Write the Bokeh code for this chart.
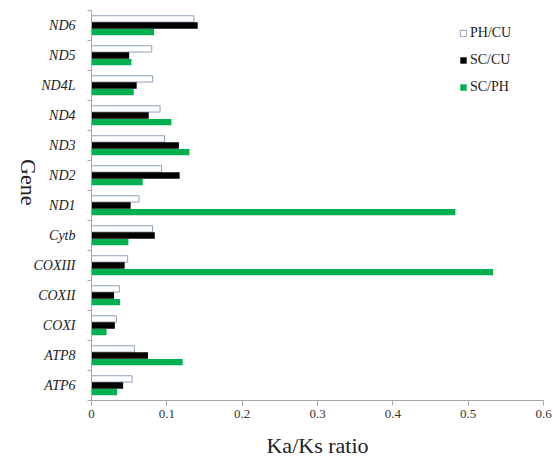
from bokeh.plotting import figure
from bokeh.models import (ColumnDataSource, Range1d, FixedTicker, NumeralTickFormatter,
                          Legend, LegendItem)
from bokeh.transform import dodge
from bokeh.embed import file_html
from bokeh.resources import INLINE
import math

genes = ["ATP6", "ATP8", "COXI", "COXII", "COXIII", "Cytb", "ND1",
         "ND2", "ND3", "ND4", "ND4L", "ND5", "ND6"]
ph_cu = [0.054, 0.057, 0.033, 0.037, 0.048, 0.081, 0.063, 0.093, 0.097, 0.091, 0.081, 0.080, 0.136]
sc_cu = [0.042, 0.075, 0.031, 0.030, 0.044, 0.084, 0.052, 0.117, 0.116, 0.076, 0.060, 0.050, 0.141]
sc_ph = [0.034, 0.121, 0.020, 0.038, 0.533, 0.049, 0.483, 0.068, 0.130, 0.106, 0.056, 0.053, 0.083]
x_ticks = [0, 0.1, 0.2, 0.3, 0.4, 0.5, 0.6]

pos = list(range(1, len(genes) + 1))
src = ColumnDataSource(dict(pos=pos, gene=genes, ph_cu=ph_cu, sc_cu=sc_cu, sc_ph=sc_ph))

FONT = "'Liberation Serif', 'Times New Roman', serif"
AX = "#a6a6a6"

p = figure(width=553, height=460, output_backend="svg", toolbar_location=None,
           x_range=Range1d(0, 0.6), y_range=Range1d(0.5, len(genes) + 0.5),
           min_border_left=91, min_border_right=10, min_border_top=10, min_border_bottom=57)
p.outline_line_color = None
p.xgrid.grid_line_color = None
p.ygrid.grid_line_color = None

bh = 0.21
r1 = p.hbar(y=dodge("pos", 0.22), right="ph_cu", left=0, height=bh, source=src,
            fill_color="white", line_color="#8ea2b8", line_width=1)
r2 = p.hbar(y=dodge("pos", 0.0), right="sc_cu", left=0, height=bh, source=src,
            fill_color="black", line_color=None)
r3 = p.hbar(y=dodge("pos", -0.22), right="sc_ph", left=0, height=bh, source=src,
            fill_color="#00b050", line_color=None)

# x axis
xa = p.xaxis[0]
xa.ticker = FixedTicker(ticks=x_ticks, minor_ticks=[])
xa.formatter = NumeralTickFormatter(format="0.[0]")
xa.axis_line_color = AX
xa.major_tick_line_color = AX
xa.major_tick_out = 5
xa.major_tick_in = 0
xa.minor_tick_line_color = None
xa.major_label_text_font = FONT
xa.major_label_text_font_size = "13px"
xa.major_label_text_color = "#333333"
xa.major_label_standoff = 4
xa.axis_label = "Ka/Ks ratio"
xa.axis_label_text_font = FONT
xa.axis_label_text_font_size = "22px"
xa.axis_label_text_font_style = "normal"
xa.axis_label_text_color = "#222222"
xa.axis_label_standoff = 12

# y axis: labels at band centres, ticks at band boundaries
ya = p.yaxis[0]
ya.ticker = FixedTicker(ticks=pos, minor_ticks=[i + 0.5 for i in range(len(genes) + 1)])
ya.major_label_overrides = {k: g for k, g in zip(pos, genes)}
ya.axis_line_color = AX
ya.major_tick_line_color = None
ya.major_tick_out = 0
ya.major_tick_in = 0
ya.minor_tick_line_color = AX
ya.minor_tick_out = 4
ya.minor_tick_in = 0
ya.major_label_text_font = FONT
ya.major_label_text_font_size = "14px"
ya.major_label_text_font_style = "italic"
ya.major_label_text_color = "#222222"
ya.major_label_standoff = 12
ya.axis_label = "Gene"
ya.axis_label_text_font = FONT
ya.axis_label_text_font_size = "22px"
ya.axis_label_text_font_style = "normal"
ya.axis_label_text_color = "#222222"
ya.axis_label_standoff = 2
try:
    ya.axis_label_orientation = -math.pi / 2
except Exception:
    pass

legend = Legend(items=[LegendItem(label="PH/CU", renderers=[r1]),
                       LegendItem(label="SC/CU", renderers=[r2]),
                       LegendItem(label="SC/PH", renderers=[r3])],
                location=(368, 303), orientation="vertical")
legend.glyph_width = 8
legend.glyph_height = 8
legend.label_height = 20
legend.spacing = 7
legend.padding = 0
legend.margin = 0
legend.label_standoff = 3
legend.border_line_color = None
legend.background_fill_alpha = 0
legend.label_text_font = FONT
legend.label_text_font_size = "14px"
legend.label_text_color = "#222222"
p.add_layout(legend)

open("out.html", "w").write(file_html(p, INLINE))
